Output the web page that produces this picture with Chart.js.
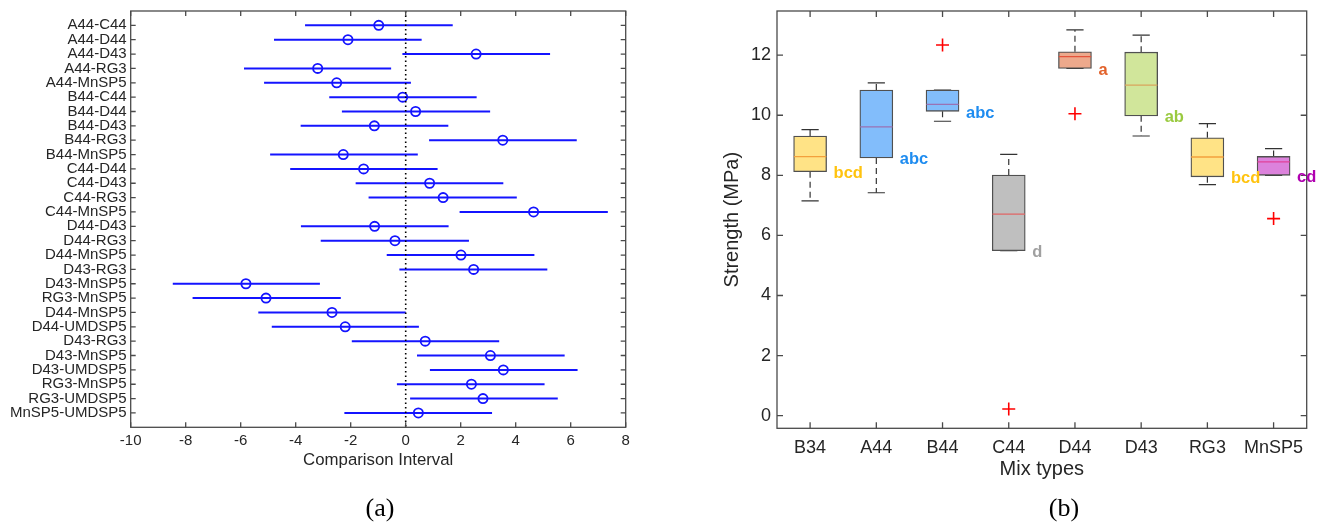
<!DOCTYPE html>
<html>
<head>
<meta charset="utf-8">
<script src="https://cdn.jsdelivr.net/npm/chart.js@4.4.1/dist/chart.umd.min.js"></script>
<style>
html,body{margin:0;padding:0;background:#fff;width:1319px;height:523px;overflow:hidden;position:relative}
canvas{position:absolute;top:0}
#ca{left:0}
#cb{left:660px}
.cap{position:absolute;top:508px;font-family:"Liberation Serif","Times New Roman",serif;font-size:26px;color:#000;transform:translate(-50%,-50%);white-space:nowrap}
</style>
</head>
<body>
<canvas id="ca" width="660" height="523"></canvas>
<canvas id="cb" width="659" height="523"></canvas>
<div class="cap" style="left:380px">(a)</div>
<div class="cap" style="left:1064px">(b)</div>
<script>
// ---------- Panel (a): multiple comparison intervals ----------
const pairLabels = ['A44-C44','A44-D44','A44-D43','A44-RG3','A44-MnSP5','B44-C44','B44-D44','B44-D43','B44-RG3','B44-MnSP5',
  'C44-D44','C44-D43','C44-RG3','C44-MnSP5','D44-D43','D44-RG3','D44-MnSP5','D43-RG3','D43-MnSP5','RG3-MnSP5',
  'D44-MnSP5','D44-UMDSP5','D43-RG3','D43-MnSP5','D43-UMDSP5','RG3-MnSP5','RG3-UMDSP5','MnSP5-UMDSP5'];
const pairDiff  = [-0.98,-2.10, 2.56,-3.20,-2.51,-0.11, 0.36,-1.14, 3.53,-2.27,-1.53, 0.87, 1.36, 4.65,-1.13,-0.39, 2.01, 2.47,-5.81,-5.08,-2.68,-2.20, 0.71, 3.08, 3.55, 2.39, 2.81, 0.46];
const pairLower = [-3.66,-4.79,-0.12,-5.88,-5.15,-2.78,-2.32,-3.82, 0.85,-4.93,-4.20,-1.82,-1.35, 1.96,-3.81,-3.09,-0.69,-0.23,-8.47,-7.75,-5.36,-4.87,-1.96, 0.41, 0.88,-0.32, 0.16,-2.23];
const pairUpper = [ 1.71, 0.58, 5.25,-0.53, 0.19, 2.58, 3.07, 1.55, 6.22, 0.44, 1.16, 3.55, 4.04, 7.35, 1.56, 2.30, 4.68, 5.15,-3.12,-2.36, 0.00, 0.48, 3.40, 5.78, 6.25, 5.05, 5.53, 3.14];
const xTicksA = [-10,-8,-6,-4,-2,0,2,4,6,8];

// ---------- Panel (b): box plots ----------
const mixTypes    = ['B34','A44','B44','C44','D44','D43','RG3','MnSP5'];
const whiskerLow  = [7.15, 7.42, 9.80, 5.49, 11.56, 9.31, 7.69, 8.00];
const quart1      = [8.12, 8.58, 10.13, 5.49, 11.56, 9.98, 7.95, 8.00];
const medians     = [8.62, 9.61, 10.36, 6.71, 11.95, 11.00, 8.61, 8.45];
const quart3      = [9.31, 10.84, 10.84, 8.01, 12.11, 12.10, 9.25, 8.63];
const whiskerHigh = [9.52, 11.08, 10.84, 8.70, 12.84, 12.67, 9.72, 8.89];
const outlierMix  = ['B44','C44','D44','MnSP5'];
const outlierVal  = [12.34, 0.22, 10.05, 6.56];
const groupLetters = ['bcd','abc','abc','d','a','ab','bcd','cd'];
const yTicksB = [0,2,4,6,8,10,12];

// ---------- styles ----------
const FONT = '"Liberation Sans", Arial, Helvetica, sans-serif';
const TXT = '#262626';
const BLUE = '#1414ff';
const boxFill = ['#ffe386','#82bdfb','#82bdfb','#bfbfbf','#eda98c','#d1e69b','#ffe386','#dc82dc'];
const medianColor = ['#f3a03c','#9a72b4','#9a72b4','#e06464','#e5533a','#d9a45c','#f3a03c','#e0409a'];
const letterColor = ['#ffc30f','#1e8cf0','#1e8cf0','#a0a0a0','#e2622b','#9aca40','#ffc30f','#b000b0'];
const BOX_PX = 33, CAP_HALF = 0.13, MED_HALF = 0.245;
const GAP = {x: NaN, y: NaN};

const frameTicks = {
  id: 'frameTicks',
  afterDatasetsDraw(chart, args, o) {
    const {ctx, chartArea: a, scales: {x, y}} = chart;
    ctx.save();
    ctx.strokeStyle = o.color; ctx.lineWidth = o.width;
    ctx.beginPath();
    for (const t of x.ticks) {
      const p = x.getPixelForValue(t.value);
      ctx.moveTo(p, a.bottom); ctx.lineTo(p, a.bottom - o.len);
      ctx.moveTo(p, a.top); ctx.lineTo(p, a.top + o.len);
    }
    for (const t of y.ticks) {
      const p = y.getPixelForValue(t.value);
      ctx.moveTo(a.left, p); ctx.lineTo(a.left + o.len, p);
      ctx.moveTo(a.right, p); ctx.lineTo(a.right - o.len, p);
    }
    ctx.stroke();
    ctx.strokeRect(a.left, a.top, a.right - a.left, a.bottom - a.top);
    ctx.restore();
  }
};

// ---------- chart (a) ----------
const intervalPts = [];
pairLabels.forEach((l, i) => { intervalPts.push({x: pairLower[i], y: i + 1}, {x: pairUpper[i], y: i + 1}, GAP); });
const diffPts = pairDiff.map((d, i) => ({x: d, y: i + 1}));
const yMinA = 0, yMaxA = pairLabels.length + 1;

new Chart(document.getElementById('ca'), {
  type: 'scatter',
  data: { datasets: [
    { type: 'line', data: [{x: 0, y: yMinA}, {x: 0, y: yMaxA}], borderColor: '#000', borderWidth: 1.6, borderDash: [1.6, 2.9], pointRadius: 0, order: 0 },
    { type: 'line', data: intervalPts, borderColor: BLUE, borderWidth: 2, pointRadius: 0, spanGaps: false, order: 2 },
    { type: 'scatter', data: diffPts, pointStyle: 'circle', pointRadius: 4.6, borderWidth: 1.8, borderColor: BLUE, backgroundColor: 'rgba(0,0,0,0)', order: 1 }
  ]},
  options: {
    responsive: false, animation: false, devicePixelRatio: 1,
    layout: { padding: { left: 0, top: 11, right: 34.3, bottom: 52.4 } },
    plugins: { legend: { display: false }, tooltip: { enabled: false }, frameTicks: { color: '#4a4a4a', width: 1.3, len: 5 } },
    scales: {
      x: {
        type: 'linear', min: xTicksA[0], max: xTicksA[xTicksA.length - 1],
        afterBuildTicks: s => { s.ticks = xTicksA.map(v => ({value: v})); },
        afterFit: s => { s.height = 43.3; s.paddingLeft = 0; s.paddingRight = 0; },
        grid: { display: false, drawTicks: false }, border: { display: false },
        ticks: { padding: 5, color: TXT, autoSkip: false, maxRotation: 0, font: { family: FONT, size: 15 } },
        title: { display: true, text: 'Comparison Interval', color: TXT, padding: 0, font: { family: FONT, size: 16.8 } }
      },
      y: {
        type: 'linear', min: yMinA, max: yMaxA, reverse: true,
        afterBuildTicks: s => { s.ticks = pairLabels.map((l, i) => ({value: i + 1})); },
        afterFit: s => { s.width = 130.7; s.paddingTop = 0; s.paddingBottom = 0; },
        grid: { display: false, drawTicks: false }, border: { display: false },
        ticks: { padding: 4, color: TXT, autoSkip: false, font: { family: FONT, size: 15, lineHeight: 1 },
                 callback: v => pairLabels[Math.round(v) - 1] }
      }
    }
  },
  plugins: [frameTicks]
});

// ---------- chart (b) ----------
const whiskerPts = [], capPts = [], medPts = [];
mixTypes.forEach((m, i) => {
  const c = i + 1;
  whiskerPts.push({x: c, y: quart3[i]}, {x: c, y: whiskerHigh[i]}, GAP, {x: c, y: quart1[i]}, {x: c, y: whiskerLow[i]}, GAP);
  capPts.push({x: c - CAP_HALF, y: whiskerHigh[i]}, {x: c + CAP_HALF, y: whiskerHigh[i]}, GAP,
              {x: c - CAP_HALF, y: whiskerLow[i]}, {x: c + CAP_HALF, y: whiskerLow[i]}, GAP);
  medPts.push({x: c - MED_HALF, y: medians[i]}, {x: c + MED_HALF, y: medians[i]}, GAP);
});
const boxPts = mixTypes.map((m, i) => ({x: i + 1, y: [quart1[i], quart3[i]]}));
const outPts = outlierMix.map((m, i) => ({x: mixTypes.indexOf(m) + 1, y: outlierVal[i]}));

const letterPlugin = {
  id: 'letters',
  afterDatasetsDraw(chart) {
    const {ctx, scales: {x, y}} = chart;
    ctx.save();
    ctx.font = 'bold 16.5px ' + FONT;
    ctx.textBaseline = 'middle'; ctx.textAlign = 'left';
    groupLetters.forEach((t, i) => {
      ctx.fillStyle = letterColor[i];
      ctx.fillText(t, x.getPixelForValue(i + 1) + BOX_PX / 2 + 7, y.getPixelForValue(quart1[i]) + 2);
    });
    ctx.restore();
  }
};

new Chart(document.getElementById('cb'), {
  type: 'scatter',
  data: { datasets: [
    { type: 'line', data: whiskerPts, borderColor: '#333', borderWidth: 1.2, borderDash: [6, 4], pointRadius: 0, spanGaps: false, order: 5 },
    { type: 'line', data: capPts, borderColor: '#333', borderWidth: 1.2, pointRadius: 0, spanGaps: false, order: 4 },
    { type: 'bar', data: boxPts, backgroundColor: boxFill, borderColor: '#505050', borderWidth: 1.3, borderSkipped: false, barThickness: BOX_PX, order: 3 },
    { type: 'line', data: medPts, borderWidth: 1.3, pointRadius: 0, spanGaps: false, order: 2,
      borderColor: medianColor[0], segment: { borderColor: ctx => medianColor[Math.floor(ctx.p0DataIndex / 3)] } },
    { type: 'scatter', data: outPts, pointStyle: 'cross', pointRadius: 6.5, borderWidth: 1.6, borderColor: '#ff0000', backgroundColor: '#ff0000', order: 1 }
  ]},
  options: {
    responsive: false, animation: false, devicePixelRatio: 1,
    layout: { padding: { left: 60, top: 11, right: 12.3, bottom: 41.6 } },
    plugins: { legend: { display: false }, tooltip: { enabled: false }, frameTicks: { color: '#4a4a4a', width: 1.3, len: 6 } },
    scales: {
      x: {
        type: 'linear', min: 0.5, max: mixTypes.length + 0.5, offset: false,
        afterBuildTicks: s => { s.ticks = mixTypes.map((m, i) => ({value: i + 1})); },
        afterFit: s => { s.height = 53.1; s.paddingLeft = 0; s.paddingRight = 0; },
        grid: { display: false, drawTicks: false }, border: { display: false },
        ticks: { padding: 8.9, color: TXT, autoSkip: false, maxRotation: 0, font: { family: FONT, size: 18 },
                 callback: v => mixTypes[Math.round(v) - 1] },
        title: { display: true, text: 'Mix types', color: TXT, padding: 0, font: { family: FONT, size: 20 } }
      },
      y: {
        type: 'linear', min: -0.42, max: 13.47,
        afterBuildTicks: s => { s.ticks = yTicksB.map(v => ({value: v})); },
        afterFit: s => { s.width = 57; s.paddingTop = 0; s.paddingBottom = 0; },
        grid: { display: false, drawTicks: false }, border: { display: false },
        ticks: { padding: 6, color: TXT, autoSkip: false, font: { family: FONT, size: 18 } },
        title: { display: true, text: 'Strength (MPa)', color: TXT, padding: 0, font: { family: FONT, size: 20 } }
      }
    }
  },
  plugins: [frameTicks, letterPlugin]
});
</script>
</body>
</html>
